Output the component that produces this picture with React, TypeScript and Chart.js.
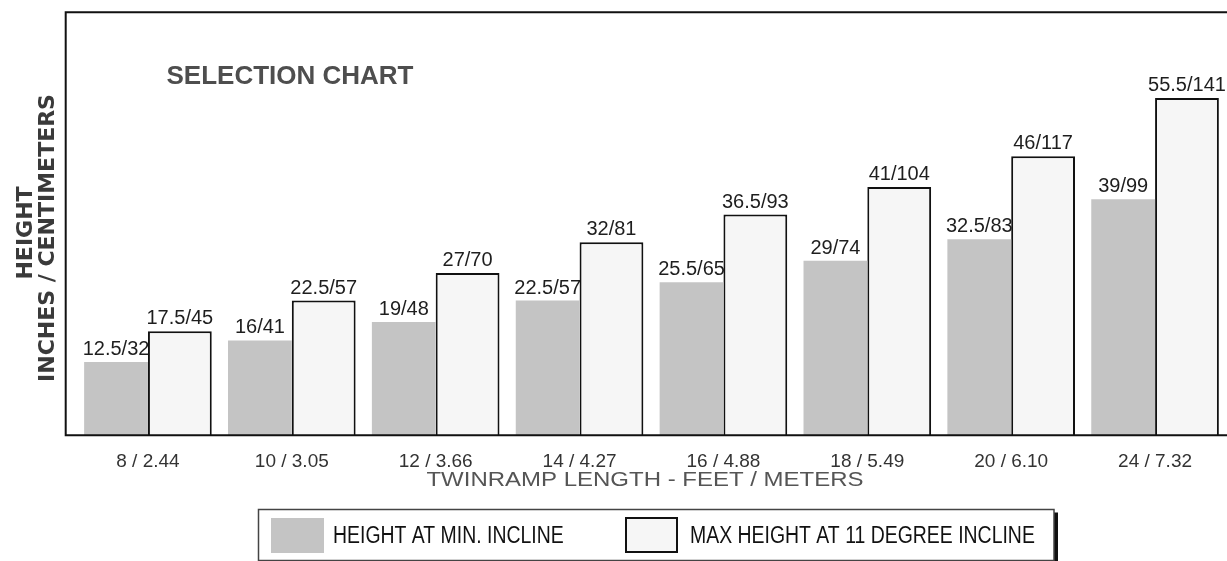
import { useEffect, useRef } from "react";
import { Chart, registerables } from "chart.js";

Chart.register(...registerables);

const categories = ["8 / 2.44", "10 / 3.05", "12 / 3.66", "14 / 4.27", "16 / 4.88", "18 / 5.49", "20 / 6.10", "24 / 7.32"];
const minInclineInches = [12.5, 16, 19, 22.5, 25.5, 29, 32.5, 39];
const minInclineCm = [32, 41, 48, 57, 65, 74, 83, 99];
const maxInclineInches = [17.5, 22.5, 27, 32, 36.5, 41, 46, 55.5];
const maxInclineCm = [45, 57, 70, 81, 93, 104, 117, 141];
const seriesNames = ["HEIGHT AT MIN. INCLINE", "MAX HEIGHT AT 11 DEGREE INCLINE"];
const chartTitle = "SELECTION CHART";
const yTitleLines = ["HEIGHT", "INCHES / CENTIMETERS"];
const xTitle = "TWINRAMP LENGTH - FEET / METERS";

const GRAY = "#c4c4c4";
const WHITE = "#f6f6f6";
const SANS = '"Liberation Sans", Arial, sans-serif';

const decorPlugin = {
  id: "decor",
  afterDatasetsDraw(chart: any) {
    const ctx: CanvasRenderingContext2D = chart.ctx;
    const area = chart.chartArea;
    const cmSets = [minInclineCm, maxInclineCm];

    // value labels above bars
    ctx.save();
    ctx.font = `20px ${SANS}`;
    ctx.fillStyle = "#1e1e1e";
    ctx.textAlign = "center";
    ctx.textBaseline = "alphabetic";
    chart.data.datasets.forEach((ds: any, di: number) => {
      const meta = chart.getDatasetMeta(di);
      meta.data.forEach((el: any, i: number) => {
        ctx.fillText(`${ds.data[i]}/${cmSets[di][i]}`, el.x, el.y - 7);
      });
    });
    ctx.restore();

    // frame: top, left, bottom
    ctx.save();
    ctx.strokeStyle = "#111";
    ctx.lineWidth = 2;
    ctx.beginPath();
    ctx.moveTo(65, 12.3);
    ctx.lineTo(chart.width, 12.3);
    ctx.moveTo(65.7, 11.3);
    ctx.lineTo(65.7, area.bottom + 1);
    ctx.moveTo(65, area.bottom);
    ctx.lineTo(chart.width, area.bottom);
    ctx.stroke();
    ctx.restore();
  },
  afterDraw(chart: any) {
    const ctx: CanvasRenderingContext2D = chart.ctx;

    // chart title inside plot
    ctx.save();
    ctx.font = `bold 26px ${SANS}`;
    ctx.fillStyle = "#4e4e4e";
    ctx.textAlign = "center";
    ctx.textBaseline = "middle";
    ctx.fillText(chartTitle, 290, 77);
    ctx.restore();

    // y-axis title (two rotated lines)
    ctx.save();
    ctx.font = 'bold 22px "DejaVu Sans", sans-serif';
    ctx.fillStyle = "#3a3a3a";
    ctx.textAlign = "center";
    ctx.textBaseline = "middle";
    ctx.translate(26, 233);
    ctx.rotate(-Math.PI / 2);
    ctx.fillText(yTitleLines[0], 0, 0);
    ctx.restore();
    ctx.save();
    ctx.font = 'bold 22px "DejaVu Sans", sans-serif';
    ctx.fillStyle = "#3a3a3a";
    ctx.textAlign = "center";
    ctx.textBaseline = "middle";
    ctx.translate(48, 238);
    ctx.rotate(-Math.PI / 2);
    ctx.fillText(yTitleLines[1], 0, 0);
    ctx.restore();

    // x-axis title (wide)
    ctx.save();
    ctx.font = `19.5px ${SANS}`;
    ctx.fillStyle = "#555";
    ctx.textAlign = "center";
    ctx.textBaseline = "middle";
    ctx.translate(645, 481);
    ctx.scale(1.23, 1);
    ctx.fillText(xTitle, 0, 0);
    ctx.restore();

    // legend
    ctx.save();
    ctx.fillStyle = "#111";
    ctx.fillRect(1054, 512.5, 4, 49);
    ctx.strokeStyle = "#444";
    ctx.lineWidth = 1.5;
    ctx.strokeRect(258.5, 509.5, 795.5, 51);
    const ds = chart.data.datasets;
    ctx.fillStyle = ds[0].backgroundColor;
    ctx.fillRect(271, 518, 53, 35);
    ctx.fillStyle = ds[1].backgroundColor;
    ctx.fillRect(625, 517, 53, 36);
    ctx.strokeStyle = "#111";
    ctx.lineWidth = 2;
    ctx.strokeRect(626, 518, 51, 34);
    ctx.fillStyle = "#111";
    ctx.font = `23px ${SANS}`;
    ctx.textAlign = "left";
    ctx.textBaseline = "middle";
    const items: [string, number][] = [
      [ds[0].label, 333],
      [ds[1].label, 690],
    ];
    items.forEach(([t, x]) => {
      ctx.save();
      ctx.translate(x, 537);
      ctx.scale(0.845, 1);
      ctx.fillText(t, 0, 0);
      ctx.restore();
    });
    ctx.restore();
  },
};

export default function App() {
  const ref = useRef<HTMLCanvasElement | null>(null);
  useEffect(() => {
    if (!ref.current) return;
    const chart = new Chart(ref.current, {
      type: "bar",
      data: {
        labels: categories,
        datasets: [
          {
            label: seriesNames[0],
            data: minInclineInches,
            backgroundColor: GRAY,
            borderWidth: 0,
          },
          {
            label: seriesNames[1],
            data: maxInclineInches,
            backgroundColor: WHITE,
            borderColor: "#111",
            borderWidth: 2,
            borderSkipped: false,
          },
        ],
      },
      options: {
        responsive: false,
        animation: false,
        devicePixelRatio: 1,
        layout: { padding: { left: 76, right: 0, top: 12, bottom: 81 } },
        datasets: { bar: { categoryPercentage: 0.887, barPercentage: 1 } },
        plugins: {
          legend: { display: false },
          title: { display: false },
          tooltip: { enabled: false },
        },
        scales: {
          x: {
            grid: { display: false },
            border: { display: false },
            ticks: {
              color: "#333",
              font: { family: SANS, size: 19 },
              padding: 7,
              maxRotation: 0,
              autoSkip: false,
            },
          },
          y: {
            display: false,
            min: 0.57,
            max: 69.5,
          },
        },
      },
      plugins: [decorPlugin],
    });
    return () => chart.destroy();
  }, []);
  return (
    <div style={{ position: "fixed", left: 0, top: 0, width: 1227, height: 561, background: "#fff" }}>
      <canvas ref={ref} width={1227} height={561} style={{ display: "block" }} />
    </div>
  );
}
